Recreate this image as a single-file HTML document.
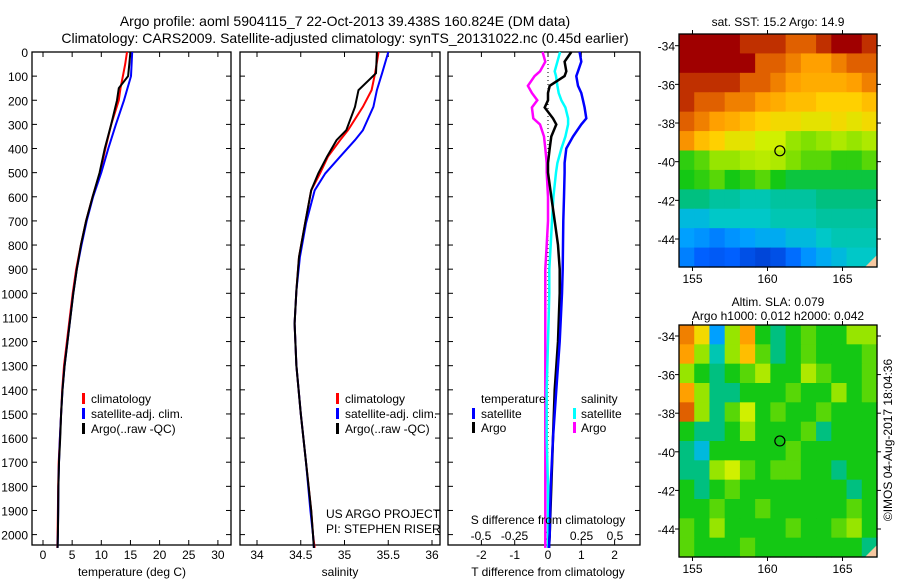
<!DOCTYPE html>
<html><head><meta charset="utf-8"><style>
html,body{margin:0;padding:0;background:#fff;}
svg{display:block;font-family:"Liberation Sans",sans-serif;}
</style></head><body>
<svg id="fig" width="900" height="580" viewBox="0 0 900 580">
<text x="345" y="26" font-size="14" text-anchor="middle">Argo profile: aoml 5904115_7 22-Oct-2013 39.438S 160.824E (DM data)</text>
<text x="345" y="43" font-size="14" text-anchor="middle">Climatology: CARS2009. Satellite-adjusted climatology: synTS_20131022.nc (0.45d earlier)</text>
<text transform="translate(892,440) rotate(-90)" font-size="12" text-anchor="middle">©IMOS 04-Aug-2017 18:04:36</text>
</svg>
<script>
// ---- data ----
const depthT = [0,50,100,150,200,300,400,500,600,700,800,900,1000,1100,1200,1300,1400,1500,1600,1700,1800,1900,2000,2055];
const tempClim = [14.4,14.1,13.7,13.3,13.0,11.7,10.7,9.8,8.5,7.4,6.5,5.7,5.1,4.6,4.1,3.6,3.3,3.1,2.9,2.7,2.6,2.55,2.5,2.45];
const tempSat  = [15.3,15.2,15.1,14.5,13.9,12.5,11.2,10.0,8.6,7.5,6.6,5.8,5.2,4.7,4.2,3.7,3.35,3.1,2.9,2.75,2.65,2.6,2.55,2.5];
const tempArgo = [15.0,14.8,14.6,13.0,12.7,11.7,10.6,9.7,8.5,7.4,6.5,5.8,5.2,4.7,4.2,3.7,3.35,3.1,2.95,2.75,2.65,2.6,2.55,2.5];
const depthS = [0,88,158,227,324,365,434,503,573,710,850,988,1125,1300,1500,1700,1900,2000,2055];
const salClim = [35.39,35.35,35.31,35.21,35.04,34.95,34.81,34.72,34.62,34.55,34.48,34.45,34.43,34.45,34.5,34.56,34.62,34.64,34.66];
const salSat  = [35.50,35.43,35.37,35.33,35.21,35.12,34.95,34.78,34.66,34.56,34.49,34.45,34.43,34.45,34.5,34.56,34.61,34.64,34.65];
const salArgo = [35.37,35.36,35.16,35.12,35.02,34.91,34.80,34.70,34.62,34.55,34.48,34.45,34.43,34.45,34.5,34.56,34.62,34.64,34.65];
const depthD = [0,40,80,100,140,170,200,230,275,300,350,400,460,500,600,700,800,900,1000,1200,1400,1600,1800,2000,2055];
const dTSat  = [0.95,1.0,0.9,0.85,0.9,1.0,1.05,1.1,1.15,1.0,0.75,0.55,0.5,0.5,0.48,0.46,0.45,0.44,0.42,0.35,0.25,0.15,0.08,0.05,0.03];
const dTArgo = [0.7,0.5,0.55,0.5,0.05,0.0,0.0,-0.1,0.15,0.25,0.1,0.05,0.0,0.0,0.1,0.2,0.3,0.35,0.35,0.3,0.2,0.15,0.1,0.05,0.03];
const dSSat  = [0.09,0.07,0.05,0.06,0.07,0.08,0.10,0.13,0.15,0.15,0.13,0.10,0.07,0.06,0.04,0.03,0.02,0.01,0.01,0.0,-0.01,-0.01,0.0,0.0,0.0];
const dSArgo = [-0.04,-0.02,-0.06,-0.1,-0.15,-0.12,-0.08,-0.12,-0.11,-0.06,-0.03,-0.02,-0.01,-0.01,0.0,0.0,-0.01,-0.02,-0.02,-0.02,-0.02,-0.02,-0.02,-0.02,-0.02];
const depthTicks = [0,100,200,300,400,500,600,700,800,900,1000,1100,1200,1300,1400,1500,1600,1700,1800,1900,2000];
const tTicks = [0,5,10,15,20,25,30];
const sTicks = [34,34.5,35,35.5,36];
const dtTicks = [-2,-1,0,1,2];
const dsTicks = [-0.5,-0.25,0,0.25,0.5];
const latTicks = [-34,-36,-38,-40,-42,-44];
const lonTicks = [155,160,165];
const sstGrid = [
[1,1,1,1,.95,.95,.95,.9,.9,.95,1,1,.95],
[1,1,1,1,1,.9,.9,.85,.8,.8,.85,.9,.9],
[.95,.95,.95,.95,.9,.9,.85,.8,.78,.78,.78,.8,.85],
[.95,.9,.9,.85,.85,.8,.78,.75,.75,.72,.72,.72,.75],
[.9,.85,.8,.78,.75,.72,.7,.7,.68,.68,.7,.68,.7],
[.82,.75,.72,.68,.68,.65,.65,.6,.58,.6,.62,.6,.62],
[.52,.55,.6,.6,.62,.63,.62,.58,.55,.55,.52,.52,.55],
[.5,.52,.55,.5,.52,.55,.5,.48,.48,.48,.48,.48,.48],
[.45,.45,.42,.42,.4,.4,.42,.42,.42,.45,.45,.45,.45],
[.35,.35,.38,.38,.38,.38,.4,.4,.4,.42,.42,.42,.42],
[.3,.28,.25,.28,.3,.32,.32,.35,.35,.38,.4,.4,.4],
[.25,.2,.18,.2,.15,.12,.15,.22,.28,.32,.35,.38,.38]];
const slaGrid = [
[.85,.7,.3,.6,.8,.5,.45,.5,.55,.5,.5,.6,.6],
[.8,.6,.4,.6,.75,.55,.45,.5,.55,.5,.5,.5,.55],
[.6,.5,.45,.5,.55,.62,.5,.5,.62,.55,.5,.5,.55],
[.8,.6,.45,.45,.5,.5,.5,.55,.5,.5,.6,.5,.55],
[.9,.6,.45,.55,.65,.5,.55,.5,.5,.55,.5,.5,.5],
[.5,.45,.45,.5,.6,.5,.5,.5,.55,.45,.5,.5,.5],
[.45,.35,.5,.5,.5,.5,.5,.55,.5,.5,.5,.5,.5],
[.45,.45,.6,.65,.55,.5,.55,.55,.5,.5,.45,.5,.5],
[.5,.45,.5,.55,.5,.5,.5,.5,.5,.5,.5,.45,.5],
[.5,.5,.55,.5,.5,.55,.5,.5,.5,.5,.5,.55,.5],
[.55,.5,.6,.5,.5,.5,.5,.55,.5,.5,.55,.6,.5],
[.55,.5,.5,.5,.55,.5,.5,.5,.5,.5,.5,.5,.45]];
const argoLon = 160.824, argoLat = -39.438;

// ---- drawing ----
const svg = document.getElementById('fig');
const NS = 'http://www.w3.org/2000/svg';
function mk(tag, attrs, parent){const e=document.createElementNS(NS,tag);for(const k in attrs)e.setAttribute(k,attrs[k]);(parent||svg).appendChild(e);return e;}
function txt(x,y,s,size,anchor,parent){const t=mk('text',{x:x,y:y,'font-size':size,'text-anchor':anchor||'middle'},parent);t.textContent=s;return t;}
const TOP=52, BOT=545;
const yD = d => TOP + d*0.2413;
function line(xs,ds,color,w,name,xf){
  const p=mk('polyline',{points:xs.map((v,i)=>xf(v).toFixed(1)+','+yD(ds[i]).toFixed(1)).join(' '),fill:'none',stroke:color,'stroke-width':w});
  
  
}
function frame(x0,x1,name){
  const r=mk('rect',{x:x0,y:TOP,width:x1-x0,height:BOT-TOP,fill:'none',stroke:'#000','stroke-width':1.3});
  
  
}
function legendBar(x,y,color){mk('rect',{x:x,y:y-10,width:3,height:11,fill:color});}

// panel 1 temperature
const xT = v => 43 + v*5.83;
frame(32,231,'temperature-panel');
depthTicks.forEach(d=>{mk('line',{x1:32,x2:37,y1:yD(d),y2:yD(d),stroke:'#000'});mk('line',{x1:226,x2:231,y1:yD(d),y2:yD(d),stroke:'#000'});const t=txt(28,yD(d)+5,String(d),12,'end');});
tTicks.forEach(v=>{mk('line',{x1:xT(v),x2:xT(v),y1:BOT,y2:BOT-5,stroke:'#000'});mk('line',{x1:xT(v),x2:xT(v),y1:TOP,y2:TOP+5,stroke:'#000'});txt(xT(v),559,String(v),12);});
txt(132,576,'temperature (deg C)',12);
line(tempClim,depthT,'#f00',2,'temp-climatology-line',xT);
line(tempSat,depthT,'#00f',2,'temp-satellite-line',xT);
line(tempArgo,depthT,'#000',2,'temp-argo-line',xT);
[['climatology','#f00'],['satellite-adj. clim.','#00f'],['Argo(..raw -QC)','#000']].forEach((l,i)=>{legendBar(82,403+i*15,l[1]);const t=txt(91,403+i*15,l[0],12,'start');});

// panel 2 salinity
const xS = v => 257 + (v-34)*87.5;
frame(240,440,'salinity-panel');
depthTicks.forEach(d=>{mk('line',{x1:240,x2:245,y1:yD(d),y2:yD(d),stroke:'#000'});mk('line',{x1:435,x2:440,y1:yD(d),y2:yD(d),stroke:'#000'});});
sTicks.forEach(v=>{mk('line',{x1:xS(v),x2:xS(v),y1:BOT,y2:BOT-5,stroke:'#000'});mk('line',{x1:xS(v),x2:xS(v),y1:TOP,y2:TOP+5,stroke:'#000'});txt(xS(v),559,String(v),12);});
txt(340,576,'salinity',12);
line(salClim,depthS,'#f00',2,'sal-climatology-line',xS);
line(salSat,depthS,'#00f',2,'sal-satellite-line',xS);
line(salArgo,depthS,'#000',2,'sal-argo-line',xS);
[['climatology','#f00'],['satellite-adj. clim.','#00f'],['Argo(..raw -QC)','#000']].forEach((l,i)=>{legendBar(336,403+i*15,l[1]);const t=txt(345,403+i*15,l[0],12,'start');});
txt(326,518,'US ARGO PROJECT',12,'start');
txt(326,533,'PI: STEPHEN RISER',12,'start');

// panel 3 differences
const xDT = v => 548 + v*33.3;
const xDS = v => 548 + v*134;
frame(448,640,'difference-panel');
depthTicks.forEach(d=>{mk('line',{x1:448,x2:453,y1:yD(d),y2:yD(d),stroke:'#000'});mk('line',{x1:635,x2:640,y1:yD(d),y2:yD(d),stroke:'#000'});});
dtTicks.forEach(v=>{mk('line',{x1:xDT(v),x2:xDT(v),y1:BOT,y2:BOT-5,stroke:'#000'});mk('line',{x1:xDT(v),x2:xDT(v),y1:TOP,y2:TOP+5,stroke:'#000'});txt(xDT(v),559,String(v),12);});
dsTicks.forEach(v=>{txt(xDS(v),540,String(v),12);});
mk('line',{x1:xDT(0),x2:xDT(0),y1:TOP,y2:BOT,stroke:'#000','stroke-dasharray':'1,3'});
line(dSArgo,depthD,'#f0f',2.5,'sal-argo-diff-line',xDS);
line(dSSat,depthD,'#0ff',2.5,'sal-satellite-diff-line',xDS);
line(dTArgo,depthD,'#000',2.5,'temp-argo-diff-line',xDT);
line(dTSat,depthD,'#00f',2.5,'temp-satellite-diff-line',xDT);
txt(481,403,'temperature',12,'start');
legendBar(472,418,'#00f');txt(481,418,'satellite',12,'start');
legendBar(472,432,'#000');txt(481,432,'Argo',12,'start');
txt(581,403,'salinity',12,'start');
legendBar(573,418,'#0ff');txt(581,418,'satellite',12,'start');
legendBar(573,432,'#f0f');txt(581,432,'Argo',12,'start');
txt(548,524,'S difference from climatology',12);
txt(548,576,'T difference from climatology',12);

// maps
const cmapStops = [[0,[0,32,160]],[0.2,[0,96,255]],[0.3,[0,160,255]],[0.38,[0,200,200]],[0.45,[0,192,128]],[0.5,[20,200,20]],[0.58,[128,224,0]],[0.65,[208,240,0]],[0.72,[255,208,0]],[0.8,[255,160,0]],[0.9,[224,96,0]],[1,[160,0,0]]];
function cmap(v){v=Math.max(0,Math.min(1,v));
  for(let i=1;i<cmapStops.length;i++){const a=cmapStops[i-1],b=cmapStops[i];
    if(v<=b[0]){const t=(v-a[0])/(b[0]-a[0]);return 'rgb('+a[1].map((c,k)=>Math.round(c+(b[1][k]-c)*t)).join(',')+')';}}
  return 'rgb(160,0,0)';}
function map(top,bot,lat34y,lat44y,grid,title1,title2,name){
  const L=679,R=877,lon0=154.1,lon1=167.3;
  const xL = lon => L + (lon-lon0)*(R-L)/(lon1-lon0);
  const yL = lat => lat34y + (-34-lat)*(lat44y-lat34y)/10;
  const g=mk('g',{});
  
  
  const rows=grid.length, cols=grid[0].length;
  const cw=(R-L)/cols, ch=(bot-top)/rows;
  grid.forEach((row,j)=>row.forEach((v,i)=>{
    const c=mk('rect',{x:(L+i*cw).toFixed(2),y:(top+j*ch).toFixed(2),width:(cw+0.6).toFixed(2),height:(ch+0.6).toFixed(2),fill:cmap(v)},g);
    
    
  }));
  mk('polygon',{points:(R-12)+','+bot+' '+R+','+(bot-12)+' '+R+','+bot,fill:'#f5c8a0'},g);
  mk('rect',{x:L,y:top,width:R-L,height:bot-top,fill:'none',stroke:'#000','stroke-width':1.3},g);
  latTicks.forEach(la=>{const y=yL(la);mk('line',{x1:L,x2:L-4,y1:y,y2:y,stroke:'#000'},g);mk('line',{x1:R,x2:R+4,y1:y,y2:y,stroke:'#000'},g);txt(675,y+5,String(la),12,'end',g);});
  lonTicks.forEach(lo=>{const x=xL(lo);mk('line',{x1:x,x2:x,y1:bot,y2:bot+4,stroke:'#000'},g);mk('line',{x1:x,x2:x,y1:top,y2:top-4,stroke:'#000'},g);txt(x,bot+16,String(lo),12,'middle',g);});
  const m=mk('circle',{cx:xL(argoLon),cy:yL(argoLat),r:5,fill:'none',stroke:'#000','stroke-width':1.2},g);
  
  
  if(title2){txt(778,top-19,title1,12,'middle',g);txt(778,top-5,title2,12,'middle',g);}
  else txt(778,top-8,title1,12,'middle',g);
}
map(34,267,45.7,239,sstGrid,'sat. SST: 15.2 Argo: 14.9',null,'sst-map');
map(325,557,336,529,slaGrid,'Altim. SLA: 0.079','Argo h1000: 0.012 h2000: 0.042','sla-map');
</script>
</body></html>
